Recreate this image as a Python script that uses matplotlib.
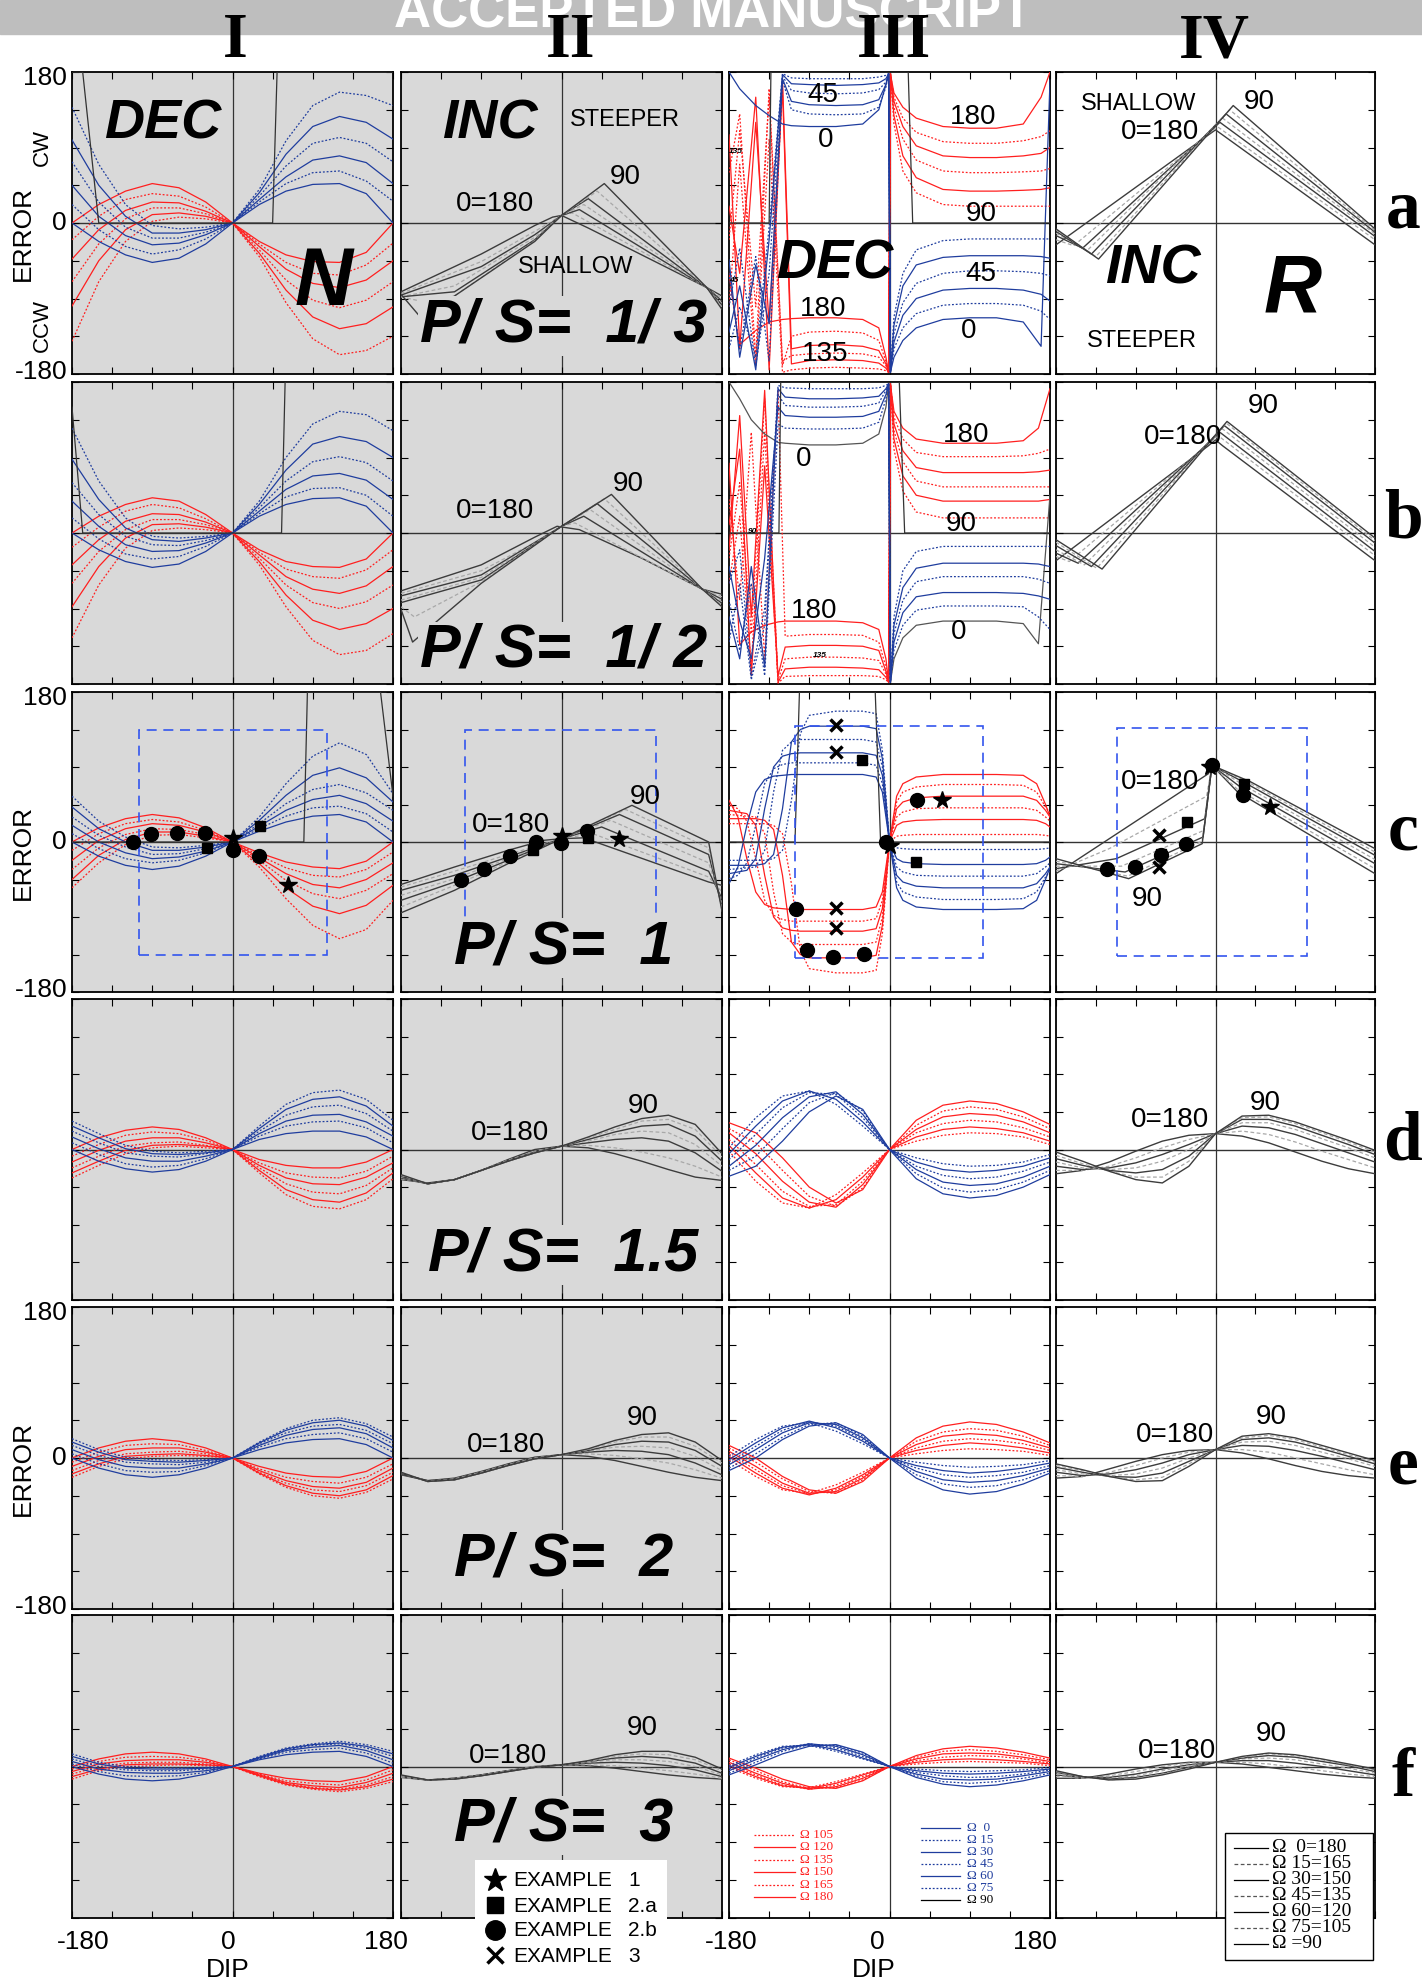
import matplotlib
matplotlib.use('Agg')
import matplotlib.pyplot as plt
from matplotlib.patches import Rectangle

W, H = 1422, 1984
SANS = ['Liberation Sans Narrow', 'Liberation Sans', 'DejaVu Sans']
SERIF = ['Liberation Serif', 'DejaVu Serif']
RED = '#ff1f1f'
BLUE = '#1f3d9e'
DARK = '#3c3c3c'
LIGHT = '#a8a8a8'
GRAY_BG = '#d9d9d9'
BOXBLUE = '#3355ee'
DOT = (0, (1.5, 1.5))
DASH = (0, (3, 2))

# ---------------- data (degrees) ----------------
DIP = [-180, -150, -120, -90, -60, -30, 0, 30, 60, 90, 120, 150, 180]
RED_OMEGA = ['105', '120', '135', '150', '165', '180']
BLUE_OMEGA = ['0', '15', '30', '45', '60', '75', '90']
IV_OMEGA = ['\u03a9  0=180', '\u03a9 15=165', '\u03a9 30=150', '\u03a9 45=135',
            '\u03a9 60=120', '\u03a9 75=105', '\u03a9 =90']
EXAMPLES = ['1', '2.a', '2.b', '3']

# column I (DEC), red = omega 105..180, blue = omega 0..75
IA_RED = [[-141, -70, -22, 2, 7, 5, 0, -40, -95, -138, -157, -152, -135],
          [-99, -45, -8, 10, 12, 8, 0, -36, -80, -112, -126, -120, -100],
          [-70, -25, 5, 18, 18, 11, 0, -32, -68, -92, -101, -92, -70],
          [-43, -8, 15, 25, 24, 14, 0, -28, -55, -72, -77, -68, -45],
          [-20, 8, 28, 35, 32, 19, 0, -25, -47, -60, -62, -50, -24],
          [0, 22, 38, 47, 42, 25, 0, -22, -38, -46, -47, -35, 0]]
IA_BLUE = [[0, -22, -38, -47, -42, -25, 0, 22, 38, 46, 47, 35, 0],
           [22, -8, -28, -37, -32, -19, 0, 25, 47, 60, 62, 50, 26],
           [45, 8, -15, -26, -24, -14, 0, 28, 55, 75, 80, 72, 47],
           [73, 25, -5, -18, -18, -11, 0, 32, 68, 95, 102, 95, 73],
           [99, 45, 8, -12, -12, -8, 0, 36, 82, 115, 127, 120, 100],
           [138, 70, 22, -3, -7, -5, 0, 40, 98, 140, 156, 152, 140]]
IA_BLACK_X = [-180, -168, -150, 45, 50, 180]
IA_BLACK_Y = [180, 180, 0, 0, 180, 180]

IB_RED = [[-125, -62, -18, 3, 6, 4, 0, -38, -88, -128, -145, -140, -120],
          [-88, -40, -6, 10, 11, 7, 0, -34, -74, -104, -115, -108, -90],
          [-60, -22, 4, 16, 16, 10, 0, -30, -62, -83, -90, -82, -62],
          [-38, -8, 14, 23, 22, 13, 0, -26, -52, -67, -72, -63, -40],
          [-17, 7, 26, 34, 30, 17, 0, -23, -43, -52, -54, -44, -20],
          [0, 20, 34, 42, 38, 22, 0, -20, -34, -40, -41, -31, 0]]
IB_BLUE = [[0, -20, -34, -41, -37, -22, 0, 20, 34, 41, 42, 32, 0],
           [18, -7, -25, -31, -28, -16, 0, 23, 43, 53, 54, 45, 20],
           [38, 8, -14, -22, -21, -12, 0, 26, 52, 68, 71, 63, 40],
           [60, 22, -4, -14, -15, -9, 0, 30, 62, 85, 91, 84, 62],
           [88, 40, 6, -8, -10, -6, 0, 34, 75, 106, 115, 109, 90],
           [125, 62, 18, -4, -6, -4, 0, 38, 90, 130, 145, 141, 122]]
IB_BLACK_X = [-180, -168, 55, 59, 180]
IB_BLACK_Y = [150, 0, 0, 180, 180]

IC_RED = [[-55, -25, -3, 8, 9, 5, 0, -30, -68, -100, -116, -105, -70],
          [-45, -16, 3, 12, 12, 7, 0, -26, -55, -77, -86, -76, -52],
          [-33, -7, 9, 16, 15, 9, 0, -22, -46, -62, -68, -58, -38],
          [-22, 2, 16, 22, 20, 12, 0, -19, -38, -51, -55, -45, -25],
          [-10, 10, 22, 27, 24, 14, 0, -16, -31, -40, -42, -33, -12],
          [0, 17, 28, 33, 29, 17, 0, -13, -24, -30, -32, -23, 0]]
IC_BLUE = [[0, -17, -28, -33, -29, -17, 0, 13, 24, 31, 33, 24, 0],
           [10, -8, -20, -25, -22, -13, 0, 16, 31, 41, 43, 34, 12],
           [20, 0, -13, -20, -18, -11, 0, 19, 38, 51, 56, 46, 25],
           [30, 8, -6, -15, -14, -8, 0, 22, 46, 63, 69, 59, 38],
           [42, 16, 0, -10, -10, -6, 0, 26, 56, 80, 89, 77, 48],
           [55, 25, 6, -6, -7, -4, 0, 30, 70, 103, 119, 105, 58]]
IC_BLACK_X = [-180, 80, 84, 166, 180]
IC_BLACK_Y = [0, 0, 180, 180, 55]

ID_RED = [[-34, -19, -5, 2, 4, 2, 0, -28, -54, -68, -71, -60, -35],
          [-28, -14, -1, 5, 6, 4, 0, -25, -48, -60, -63, -52, -28],
          [-22, -8, 4, 8, 9, 5, 0, -22, -41, -51, -53, -43, -22],
          [-15, -1, 10, 14, 14, 8, 0, -19, -34, -41, -42, -33, -16],
          [-8, 6, 17, 21, 19, 11, 0, -16, -28, -33, -34, -26, -8],
          [0, 14, 23, 27, 24, 14, 0, -12, -19, -22, -22, -15, 0]]
ID_BLUE = [[0, -14, -23, -27, -24, -14, 0, 12, 19, 22, 22, 15, 0],
           [8, -6, -17, -21, -19, -11, 0, 16, 28, 33, 34, 26, 8],
           [15, 1, -10, -14, -14, -8, 0, 19, 34, 41, 42, 33, 16],
           [22, 8, -4, -8, -9, -5, 0, 22, 41, 51, 53, 43, 22],
           [28, 14, 1, -5, -6, -4, 0, 25, 48, 60, 63, 52, 28],
           [34, 19, 5, -2, -4, -2, 0, 28, 54, 68, 71, 60, 35]]

IE_RED = [[-23, -10, -1, 2, 3, 2, 0, -19, -35, -45, -48, -41, -25],
          [-19, -7, 2, 4, 5, 3, 0, -18, -33, -42, -45, -38, -21],
          [-15, -3, 5, 7, 8, 5, 0, -17, -30, -38, -40, -33, -17],
          [-10, 2, 10, 12, 12, 7, 0, -15, -27, -34, -36, -29, -12],
          [-5, 7, 15, 17, 16, 9, 0, -13, -23, -28, -30, -23, -7],
          [0, 12, 20, 23, 20, 12, 0, -10, -18, -22, -23, -16, 0]]
IE_BLUE = [[0, -12, -20, -23, -20, -12, 0, 10, 18, 22, 23, 16, 0],
           [5, -7, -15, -17, -16, -9, 0, 13, 23, 28, 30, 23, 7],
           [10, -2, -10, -12, -12, -7, 0, 15, 27, 34, 36, 29, 12],
           [15, 3, -5, -7, -8, -5, 0, 17, 30, 38, 40, 33, 17],
           [19, 7, -2, -4, -5, -3, 0, 18, 33, 42, 45, 38, 21],
           [23, 10, 1, -2, -3, -2, 0, 19, 35, 45, 48, 41, 25]]

IF_RED = [[-15, -5, 0, 1, 2, 1, 0, -12, -22, -27, -30, -26, -18],
          [-12, -3, 2, 3, 3, 2, 0, -11, -21, -26, -28, -24, -15],
          [-9, 0, 4, 5, 5, 3, 0, -11, -20, -25, -27, -22, -12],
          [-6, 3, 7, 8, 8, 5, 0, -10, -19, -23, -25, -19, -8],
          [-3, 6, 11, 12, 11, 7, 0, -9, -17, -20, -22, -16, -4],
          [0, 9, 15, 17, 15, 9, 0, -8, -14, -17, -18, -12, 0]]
IF_BLUE = [[0, -9, -15, -17, -15, -9, 0, 8, 14, 17, 18, 12, 0],
           [3, -6, -11, -12, -11, -7, 0, 9, 17, 20, 22, 16, 4],
           [6, -3, -7, -8, -8, -5, 0, 10, 19, 23, 25, 19, 8],
           [9, 0, -4, -5, -5, -3, 0, 11, 20, 25, 27, 22, 12],
           [12, 3, -2, -3, -3, -2, 0, 11, 21, 26, 28, 24, 15],
           [15, 5, 0, -1, -2, -1, 0, 12, 22, 27, 30, 26, 18]]

# column II (INC, N), omega 0=180 ... 90 ; rows a-c as vertex lists
IIA_X = [[-180, -90, -30, -10, 0, 30, 163, 180],
         [-180, -90, -30, 0, 12, 163, 180],
         [-180, -90, -30, 0, 20, 163, 180],
         [-180, -120, -30, 0, 25, 163, 180],
         [-180, -120, -30, 0, 30, 163, 180],
         [-180, -150, -120, -30, 0, 40, 163, 180],
         [-180, -160, -120, -30, 0, 48, 163, 180]]
IIA_Y = [[-82, -37, -3, 7, 9, -6, -77, -87],
         [-84, -46, -10, 9, 12, -77, -90],
         [-86, -52, -14, 9, 16, -77, -93],
         [-88, -75, -17, 9, 22, -77, -96],
         [-88, -82, -20, 9, 29, -77, -98],
         [-88, -95, -87, -21, 9, 38, -77, -100],
         [-85, -110, -87, -22, 9, 47, -77, -103]]
IIB_X = [[-180, -90, -30, -5, 20, 90, 158, 180],
         [-180, -90, -20, 0, 15, 158, 180],
         [-180, -90, 0, 25, 158, 180],
         [-180, -90, 0, 32, 158, 180],
         [-180, -90, 0, 40, 158, 180],
         [-180, -165, -90, 0, 48, 158, 180],
         [-180, -167, -90, 0, 56, 158, 180]]
IIB_Y = [[-69, -38, -5, 8, 4, -30, -67, -73],
         [-72, -45, -6, 8, 12, -67, -76],
         [-75, -50, 8, 20, -67, -79],
         [-80, -53, 8, 28, -67, -82],
         [-83, -56, 8, 35, -67, -84],
         [-88, -100, -58, 8, 41, -67, -86],
         [-91, -130, -60, 8, 46, -67, -88]]
IIC_X = [[-180, -120, -60, -20, 0, 25, 165, 180],
         [-180, -120, -60, 0, 35, 165, 180],
         [-180, -120, -60, 0, 45, 165, 180],
         [-180, -120, -60, 0, 55, 165, 180],
         [-180, -120, -60, 0, 65, 165, 180],
         [-180, -120, -60, 0, 72, 165, 180],
         [-180, -120, -60, 0, 79, 165, 180]]
IIC_Y = [[-51, -30, -10, 2, 4, 5, -48, -52],
         [-54, -35, -15, 4, 10, -42, -60],
         [-58, -40, -18, 4, 18, -35, -68],
         [-64, -44, -20, 4, 26, -25, -74],
         [-70, -48, -22, 4, 33, -15, -78],
         [-78, -52, -24, 4, 39, -7, -80],
         [-85, -58, -26, 4, 44, 0, -83]]
IID = [[-36, -40, -36, -25, -12, 0, 4, 2, -5, -14, -24, -33, -37],
       [-35, -41, -36, -25, -13, -2, 4, 5, 2, -3, -10, -20, -33],
       [-34, -41, -36, -25, -13, -3, 4, 8, 12, 14, 10, -4, -26],
       [-33, -41, -36, -25, -13, -3, 4, 10, 18, 22, 20, 6, -20],
       [-32, -41, -36, -25, -14, -4, 4, 12, 21, 28, 30, 16, -14],
       [-31, -41, -36, -25, -14, -4, 4, 14, 24, 34, 36, 24, -9],
       [-30, -41, -36, -25, -14, -4, 4, 15, 27, 37, 41, 30, -5]]
IIE = [[-20, -27, -24, -16, -7, 1, 4, 2, -3, -10, -17, -23, -27],
       [-19, -27, -25, -17, -8, 0, 4, 5, 3, -1, -6, -14, -24],
       [-19, -27, -25, -17, -8, 0, 4, 7, 9, 8, 4, -6, -20],
       [-18, -28, -25, -17, -8, 0, 4, 8, 13, 14, 12, 2, -15],
       [-18, -28, -26, -18, -9, -1, 4, 9, 16, 20, 19, 9, -10],
       [-17, -28, -26, -18, -9, -1, 4, 10, 19, 25, 25, 14, -6],
       [-17, -28, -26, -18, -9, -1, 4, 11, 21, 28, 30, 19, -3]]
IIF = [[-13, -16, -14, -10, -5, 0, 2, 1, -2, -6, -10, -13, -15],
       [-13, -16, -14, -10, -5, 0, 2, 2, 1, -2, -5, -9, -14],
       [-12, -16, -14, -10, -5, -1, 2, 4, 5, 4, 1, -4, -12],
       [-12, -16, -14, -10, -5, -1, 2, 5, 8, 8, 6, 0, -10],
       [-11, -16, -15, -11, -6, -1, 2, 6, 10, 12, 10, 4, -8],
       [-11, -16, -15, -11, -6, -1, 2, 6, 12, 15, 14, 8, -5],
       [-10, -16, -15, -11, -6, -1, 2, 7, 14, 18, 18, 11, -3]]

# column III (DEC, R)
IIIA_X = [-180, -168, -150, -135, -120, -110, -90, -60, -30, -12, -4, -1,
          1, 5, 15, 30, 60, 90, 120, 150, 170, 180]
IIIA_RED = [[-100, 70, -170, 100, -178, -175, -173, -172, -173, -174, -176, -178,
             178, 118, 62, 36, 22, 20, 20, 20, 20, 20],
            [-60, -150, 120, -120, 160, -168, -164, -163, -164, -167, -173, -178,
             178, 128, 80, 54, 40, 38, 38, 39, 40, 42],
            [-20, 110, -100, 150, -165, -158, -156, -155, -156, -160, -170, -178,
             178, 138, 100, 75, 62, 60, 60, 61, 62, 65],
            [20, -60, 150, -175, 170, -150, -146, -145, -147, -152, -168, -178,
             178, 145, 115, 92, 80, 78, 78, 80, 83, 90],
            [60, 130, -160, 160, -170, -135, -130, -129, -131, -140, -165, -178,
             178, 150, 125, 108, 97, 95, 95, 98, 103, 110],
            [105, -145, -128, -118, -115, -114, -113, -113, -115, -125, -160, -178,
             178, 155, 138, 125, 115, 113, 113, 118, 150, 180]]
IIIA_BLUE = [[180, 160, 140, 128, 118, 116, 115, 115, 118, 135, 165, 178,
              -178, -160, -140, -125, -115, -113, -113, -118, -147, 170],
             [-60, -150, -40, -165, 170, 135, 130, 129, 130, 138, 162, 178,
              -178, -150, -125, -108, -98, -96, -96, -98, -105, -115],
             [-44, -160, -50, -120, 172, 145, 141, 140, 141, 147, 165, 178,
              -178, -142, -110, -90, -80, -78, -78, -80, -85, -93],
             [-100, -30, -170, -60, 175, 158, 155, 154, 155, 159, 168, 178,
              -178, -132, -95, -72, -60, -57, -57, -58, -60, -63],
             [-130, -75, -175, -20, 177, 166, 165, 164, 165, 167, 172, 178,
              -178, -122, -75, -50, -41, -39, -39, -39, -40, -42],
             [-150, -100, -160, -5, 178, 173, 172, 172, 172, 174, 176, 178,
              -178, -112, -60, -32, -21, -19, -19, -19, -19, -19]]
IIIA_BLACK_X = [-180, -135, -133, 21, 26, 180]
IIIA_BLACK_Y = [0, 0, 180, 180, 0, 0]

IIIB_X = [-180, -168, -155, -140, -125, -117, -90, -60, -30, -12, -4, -1,
          1, 5, 15, 30, 60, 90, 120, 150, 167, 180]
IIIB_RED = [[-60, 20, -160, 120, -179, -171, -170, -170, -170, -171, -175, -178,
             178, 100, 50, 25, 18, 18, 18, 18, 18, 18],
            [-20, 140, -100, 170, -178, -162, -160, -160, -161, -163, -172, -178,
             178, 112, 68, 45, 38, 38, 38, 38, 38, 40],
            [-30, 60, -120, 160, -175, -150, -148, -148, -149, -152, -168, -178,
             178, 122, 85, 62, 55, 55, 55, 55, 55, 55],
            [10, 100, -170, 80, -170, -136, -134, -134, -135, -140, -165, -178,
             178, 130, 98, 78, 72, 72, 72, 72, 73, 75],
            [40, -80, 120, -150, 170, -123, -121, -121, -122, -130, -160, -178,
             178, 138, 112, 96, 91, 91, 91, 92, 95, 100],
            [83, -133, -118, -110, -106, -105, -105, -105, -107, -115, -150, -178,
             178, 145, 125, 112, 107, 107, 107, 110, 125, 172]]
IIIB_BLUE = [[180, 160, 135, 118, 108, 107, 105, 105, 107, 118, 150, 178,
              -178, -150, -125, -110, -105, -105, -105, -108, -132, 45],
             [-80, -140, -60, -170, 130, 125, 124, 124, 125, 132, 160, 178,
              -178, -140, -110, -92, -87, -87, -87, -88, -100, -115],
             [-40, -105, -150, -30, 150, 140, 138, 138, 139, 145, 165, 178,
              -178, -130, -95, -76, -71, -71, -71, -72, -75, -79],
             [-60, -20, -170, -90, 165, 152, 150, 150, 151, 155, 170, 178,
              -178, -120, -80, -58, -52, -52, -52, -52, -55, -60],
             [-100, -150, -40, -160, 172, 162, 160, 160, 161, 163, 172, 178,
              -178, -110, -65, -42, -36, -36, -36, -36, -37, -40],
             [-130, -60, -175, -110, 176, 173, 172, 172, 172, 173, 176, 178,
              -178, -100, -45, -22, -16, -16, -16, -16, -16, -16]]
IIIB_BLACK_X = [-180, -124, -122, 11, 17, 180]
IIIB_BLACK_Y = [0, 0, 180, 180, 0, 0]

IIIC_X = [-180, -170, -160, -150, -140, -130, -120, -110, -100, -90, -60, -30, -15, -8,
          0, 8, 15, 30, 60, 90, 120, 150, 165, 175, 180]
IIIC_RED = [[22, 22, 22, 22, 22, 20, 10, -50, -130, -152, -157, -157, -154, -110,
             0, 7, 8, 9, 9, 9, 9, 9, 9, 8, 7],
            [28, 28, 28, 28, 26, 15, -40, -120, -135, -139, -139, -139, -136, -100,
             0, 20, 24, 26, 27, 27, 27, 27, 26, 22, 18],
            [33, 32, 31, 30, 10, -60, -110, -120, -123, -123, -123, -123, -120, -90,
             0, 30, 36, 40, 41, 41, 41, 41, 38, 30, 25],
            [38, 36, 34, 20, -40, -90, -103, -106, -107, -107, -107, -107, -104, -80,
             0, 40, 48, 53, 55, 55, 55, 55, 50, 38, 30],
            [44, 40, 25, -20, -70, -88, -93, -95, -95, -95, -95, -95, -92, -70,
             0, 48, 60, 66, 69, 69, 69, 68, 60, 42, 35],
            [50, 30, -20, -60, -75, -79, -80, -81, -81, -81, -81, -81, -78, -60,
             0, 55, 70, 78, 81, 81, 81, 80, 70, 45, 30]]
IIIC_BLUE = [[-50, -30, 20, 60, 75, 79, 80, 81, 81, 81, 81, 81, 78, 60,
              0, -55, -70, -78, -81, -81, -81, -80, -70, -45, -30],
             [-44, -40, -25, 20, 70, 88, 93, 95, 95, 95, 95, 95, 92, 70,
              0, -48, -60, -66, -69, -69, -69, -68, -60, -42, -35],
             [-38, -36, -34, -20, 40, 90, 103, 106, 107, 107, 107, 107, 104, 80,
              0, -40, -48, -53, -55, -55, -55, -55, -50, -38, -30],
             [-33, -32, -31, -30, -10, 60, 110, 120, 123, 123, 123, 123, 120, 90,
              0, -30, -36, -40, -41, -41, -41, -41, -38, -30, -25],
             [-28, -28, -28, -28, -26, -15, 40, 120, 135, 139, 139, 139, 136, 100,
              0, -20, -24, -26, -27, -27, -27, -27, -26, -22, -18],
             [-22, -22, -22, -22, -22, -20, -10, 50, 130, 152, 157, 157, 154, 110,
              0, -7, -8, -9, -9, -9, -9, -9, -9, -8, -7]]
IIIC_BLACK_X = [-180, -106, -101, -16, -10, 180]
IIIC_BLACK_Y = [0, 0, 180, 180, 0, 0]

IIID_RED = [[-2, -38, -64, -70, -54, -28, 0, 10, 17, 20, 19, 15, 6],
            [5, -28, -58, -70, -60, -33, 0, 15, 24, 27, 25, 20, 10],
            [12, -18, -50, -68, -66, -38, 0, 20, 31, 35, 33, 26, 15],
            [20, -5, -38, -63, -69, -42, 0, 24, 39, 43, 41, 33, 20],
            [25, 8, -25, -56, -68, -46, 0, 29, 46, 51, 48, 39, 25],
            [32, 20, -10, -45, -64, -48, 0, 35, 53, 58, 55, 45, 30]]
IIID_BLUE = [[-32, -20, 10, 45, 64, 48, 0, -35, -53, -58, -55, -45, -30],
             [-25, -8, 25, 56, 68, 46, 0, -29, -46, -51, -48, -39, -25],
             [-20, 5, 38, 63, 69, 42, 0, -24, -39, -43, -41, -33, -20],
             [-12, 18, 50, 68, 66, 38, 0, -20, -31, -35, -33, -26, -15],
             [-5, 28, 58, 70, 60, 33, 0, -15, -24, -27, -25, -20, -10],
             [2, 38, 64, 70, 54, 28, 0, -10, -17, -20, -19, -15, -6]]
IIIE_RED = [[-2, -22, -38, -42, -32, -17, 0, 5, 9, 11, 10, 8, 3],
            [2, -18, -36, -44, -36, -20, 0, 9, 15, 18, 16, 12, 6],
            [5, -14, -33, -43, -38, -22, 0, 12, 20, 23, 21, 17, 9],
            [8, -10, -30, -42, -40, -24, 0, 16, 26, 29, 27, 21, 12],
            [12, -5, -25, -40, -42, -26, 0, 20, 31, 35, 33, 26, 15],
            [15, 0, -22, -38, -42, -28, 0, 24, 38, 43, 40, 31, 18]]
IIIE_BLUE = [[-15, 0, 22, 38, 42, 28, 0, -24, -38, -43, -40, -31, -18],
             [-12, 5, 25, 40, 42, 26, 0, -20, -31, -35, -33, -26, -15],
             [-8, 10, 30, 42, 40, 24, 0, -16, -26, -29, -27, -21, -12],
             [-5, 14, 33, 43, 38, 22, 0, -12, -20, -23, -21, -17, -9],
             [-2, 18, 36, 44, 36, 20, 0, -9, -15, -18, -16, -12, -6],
             [2, 22, 38, 42, 32, 17, 0, -5, -9, -11, -10, -8, -3]]
IIIF_RED = [[-1, -14, -24, -25, -18, -9, 0, 3, 5, 6, 5, 4, 1],
            [1, -12, -23, -26, -20, -10, 0, 5, 8, 9, 8, 6, 3],
            [3, -10, -22, -27, -22, -12, 0, 7, 11, 13, 12, 9, 4],
            [5, -8, -20, -27, -24, -14, 0, 9, 15, 16, 15, 11, 6],
            [8, -5, -18, -26, -25, -16, 0, 11, 18, 20, 18, 14, 8],
            [10, -2, -15, -24, -26, -17, 0, 13, 21, 24, 22, 17, 10]]
IIIF_BLUE = [[-10, 2, 15, 24, 26, 17, 0, -13, -21, -24, -22, -17, -10],
             [-8, 5, 18, 26, 25, 16, 0, -11, -18, -20, -18, -14, -8],
             [-5, 8, 20, 27, 24, 14, 0, -9, -15, -16, -15, -11, -6],
             [-3, 10, 22, 27, 22, 12, 0, -7, -11, -13, -12, -9, -4],
             [-1, 12, 23, 26, 20, 10, 0, -5, -8, -9, -8, -6, -3],
             [1, 14, 24, 25, 18, 9, 0, -3, -5, -6, -5, -4, -1]]

# column IV (INC, R)
IVA_X = [[-180, -8, 0, 8, 180], [-180, -160, 2, 180], [-180, -150, 5, 180],
         [-180, -145, 8, 180], [-180, -140, 12, 180], [-180, -135, 16, 180],
         [-180, -132, 20, 180]]
IVA_Y = [[-26, 105, 111, 105, -26], [-20, -27, 115, -20], [-15, -30, 120, -16],
         [-12, -33, 125, -13], [-10, -37, 130, -11], [-8, -40, 135, -9],
         [-7, -43, 140, -7]]
IVB_X = [[-180, -8, 0, 8, 180], [-180, -165, 3, 180], [-180, -155, 5, 180],
         [-180, -148, 8, 180], [-180, -140, 10, 180], [-180, -134, 12, 180],
         [-180, -128, 13, 180]]
IVB_Y = [[-33, 104, 111, 104, -33], [-28, -34, 116, -27], [-24, -36, 120, -22],
         [-20, -38, 124, -17], [-15, -40, 128, -12], [-11, -42, 131, -9],
         [-8, -43, 133, -6]]
IVC_X = [[-180, -8, -4, 25, 180], [-180, -120, -10, -4, 25, 180],
         [-180, -112, -12, -4, 28, 180], [-180, -106, -13, -4, 32, 180],
         [-180, -102, -14, -4, 35, 180], [-180, -99, -15, -4, 38, 180],
         [-180, -98, -15, -4, 40, 180]]
IVC_Y = [[-38, 82, 92, 60, -38], [-35, -8, 55, 92, 63, -32],
         [-32, -20, 28, 92, 66, -26], [-29, -29, 14, 92, 68, -21],
         [-26, -36, 6, 92, 70, -16], [-23, -41, 1, 92, 71, -12],
         [-20, -44, -2, 92, 72, -8]]
IVD = [[-29, -25, -15, -2, 10, 17, 19, 16, 8, -3, -14, -23, -29],
       [-25, -25, -20, -10, 2, 12, 19, 22, 18, 9, -2, -12, -22],
       [-20, -24, -22, -16, -6, 6, 19, 28, 26, 18, 7, -4, -15],
       [-15, -22, -24, -22, -14, 0, 19, 32, 32, 24, 13, 2, -10],
       [-11, -19, -25, -28, -24, -8, 19, 36, 36, 28, 17, 6, -6],
       [-7, -17, -26, -33, -33, -14, 19, 38, 39, 31, 20, 9, -3],
       [-3, -14, -26, -36, -40, -20, 19, 40, 41, 33, 22, 11, -1]]
IVE = [[-24, -22, -13, -4, 4, 9, 10, 6, -1, -9, -16, -21, -24],
       [-21, -22, -17, -9, 0, 7, 10, 10, 7, 0, -7, -14, -20],
       [-17, -21, -19, -14, -6, 4, 10, 15, 14, 9, 2, -6, -14],
       [-14, -19, -21, -19, -12, 0, 10, 19, 20, 15, 7, -1, -10],
       [-11, -17, -22, -23, -18, -4, 10, 22, 24, 19, 11, 2, -7],
       [-9, -15, -22, -26, -23, -7, 10, 24, 27, 22, 13, 4, -5],
       [-7, -14, -22, -28, -27, -10, 10, 26, 29, 24, 15, 6, -3]]
IVF = [[-14, -14, -9, -3, 2, 5, 5, 3, -1, -5, -9, -12, -14],
       [-12, -14, -11, -6, 0, 4, 5, 5, 3, -1, -5, -9, -12],
       [-10, -13, -13, -9, -3, 2, 5, 7, 7, 4, 0, -5, -10],
       [-9, -13, -14, -11, -5, 1, 5, 9, 10, 8, 3, -2, -8],
       [-7, -12, -15, -13, -8, -1, 5, 10, 13, 11, 6, 1, -6],
       [-6, -12, -16, -14, -9, -2, 5, 11, 15, 13, 8, 2, -4],
       [-5, -12, -16, -15, -10, -3, 5, 12, 16, 14, 9, 3, -3]]

# row c example points and boxes
IC_CIRCLE = ([-112, -91, -62, -31, 0, 30], [0, 10, 11, 11, -10, -17])
IC_SQUARE = ([-29, 31], [-7, 19])
IC_STAR = ([0, 62], [5, -51])
IIC_CIRCLE = ([-113, -87, -58, -29, -1, 29], [-46, -32, -17, 0, -1, 13])
IIC_SQUARE = ([-32, 30], [-10, 5])
IIC_STAR = ([0, 65], [7, 4])
IIIC_CIRCLE = ([-105, -93, -63, -29, -4, 31], [-80, -129, -138, -134, 0, 50])
IIIC_SQUARE = ([-31, 30], [98, -24])
IIIC_STAR = ([0, 59], [-5, 50])
IIIC_CROSS = ([-60, -60, -60, -60], [141, 108, -79, -103])
IVC_CIRCLE = ([-4, 31, -33, -62, -91, -123], [92, 56, -2, -15, -30, -32])
IVC_SQUARE = ([-32, 32, -62], [24, 70, -14])
IVC_STAR = ([-6, 61], [90, 42])
IVC_CROSS = ([-64, -64], [8, -30])
C_BOXES = [[-105, 106, -135, 135], [-108, 106, -135, 135],
           [-106, 105, -139, 139], [-111, 103, -137, 137]]

# ---------------- layout ----------------
COL_PX = [(72, 393), (401, 722), (729, 1050), (1056, 1375)]
ROW_PX = [(72, 374), (382, 684), (692, 992), (999, 1300), (1307, 1609), (1615, 1918)]
RED_LS = [DOT, '-', DOT, '-', DOT, '-']
BLUE_LS = ['-', DOT, '-', DOT, '-', DOT]

fig = plt.figure(figsize=(W / 100, H / 100), dpi=100)


def panel(ci, ri):
    x0, x1 = COL_PX[ci]
    y0, y1 = ROW_PX[ri]
    ax = fig.add_axes([x0 / W, 1 - y1 / H, (x1 - x0) / W, (y1 - y0) / H])
    ax.set_xlim(-180, 180)
    ax.set_ylim(-180, 180)
    ax.set_xticks(range(-180, 181, 45))
    ax.set_yticks(range(-180, 181, 45))
    ax.tick_params(direction='in', length=5, width=0.8, top=True, right=True,
                   labelbottom=False, labelleft=False)
    ax.set_facecolor(GRAY_BG if ci < 2 else 'white')
    for s in ax.spines.values():
        s.set_linewidth(1.3)
    ax.axhline(0, color='#333333', lw=1.0, zorder=1)
    ax.axvline(0, color='#333333', lw=0.9, zorder=1)
    return ax


def red_blue(ax, x, reds, blues, blue0=BLUE):
    for y, ls in zip(reds, RED_LS):
        ax.plot(x, y, color=RED, ls=ls, lw=0.9, zorder=3)
    for i, (y, ls) in enumerate(zip(blues, BLUE_LS)):
        ax.plot(x, y, color=blue0 if i == 0 else BLUE, ls=ls, lw=0.9, zorder=3)


def grays(ax, xs, ys):
    for i, (x, y) in enumerate(zip(xs, ys)):
        if i % 2 == 0:
            ax.plot(x, y, color=DARK, lw=1.0, zorder=3)
        else:
            ax.plot(x, y, color=LIGHT, ls=DASH, lw=0.9, zorder=3)


def lab(ax, x, y, s, size=20, bold=False, italic=False, bg=None):
    kw = dict(ha='center', va='center', fontsize=size, family=SANS, zorder=6,
              fontweight='bold' if bold else 'normal',
              fontstyle='italic' if italic else 'normal')
    if bg is not None:
        kw['bbox'] = dict(facecolor=bg, edgecolor='none', pad=1)
    ax.text(x, y, s, **kw)


def marks(ax, circ, sq, star, cross=None):
    ax.plot(*circ, 'o', color='k', ms=10, zorder=5, ls='none')
    ax.plot(*sq, 's', color='k', ms=7, zorder=5, ls='none')
    ax.plot(*star, '*', color='k', ms=13, zorder=5, ls='none')
    if cross is not None:
        ax.plot(*cross, 'x', color='k', ms=8, mew=2.5, zorder=5, ls='none')


A = {(ci, ri): panel(ci, ri) for ri in range(6) for ci in range(4)}

# column I
for ri, (reds, blues) in enumerate([(IA_RED, IA_BLUE), (IB_RED, IB_BLUE), (IC_RED, IC_BLUE),
                                    (ID_RED, ID_BLUE), (IE_RED, IE_BLUE), (IF_RED, IF_BLUE)]):
    red_blue(A[(0, ri)], DIP, reds, blues)
for ri, (bx, by) in enumerate([(IA_BLACK_X, IA_BLACK_Y), (IB_BLACK_X, IB_BLACK_Y),
                               (IC_BLACK_X, IC_BLACK_Y)]):
    A[(0, ri)].plot(bx, by, color='#333333', lw=0.9, zorder=3)

# column II
grays(A[(1, 0)], IIA_X, IIA_Y)
grays(A[(1, 1)], IIB_X, IIB_Y)
grays(A[(1, 2)], IIC_X, IIC_Y)
for ri, fam in [(3, IID), (4, IIE), (5, IIF)]:
    grays(A[(1, ri)], [DIP] * len(fam), fam)

# column III
red_blue(A[(2, 0)], IIIA_X, IIIA_RED, IIIA_BLUE)
red_blue(A[(2, 1)], IIIB_X, IIIB_RED, IIIB_BLUE, blue0='#555555')
red_blue(A[(2, 2)], IIIC_X, IIIC_RED, IIIC_BLUE)
red_blue(A[(2, 3)], DIP, IIID_RED, IIID_BLUE)
red_blue(A[(2, 4)], DIP, IIIE_RED, IIIE_BLUE)
red_blue(A[(2, 5)], DIP, IIIF_RED, IIIF_BLUE)
for ri, (bx, by) in enumerate([(IIIA_BLACK_X, IIIA_BLACK_Y), (IIIB_BLACK_X, IIIB_BLACK_Y),
                               (IIIC_BLACK_X, IIIC_BLACK_Y)]):
    A[(2, ri)].plot(bx, by, color='#333333', lw=0.9, zorder=3)

# column IV
grays(A[(3, 0)], IVA_X, IVA_Y)
grays(A[(3, 1)], IVB_X, IVB_Y)
grays(A[(3, 2)], IVC_X, IVC_Y)
for ri, fam in [(3, IVD), (4, IVE), (5, IVF)]:
    grays(A[(3, ri)], [DIP] * len(fam), fam)

# row c: boxes and example points
for ci, b in enumerate(C_BOXES):
    A[(ci, 2)].add_patch(Rectangle((b[0], b[2]), b[1] - b[0], b[3] - b[2], fill=False,
                                   ec=BOXBLUE, lw=1.2, ls=(0, (6, 4)), zorder=4))
marks(A[(0, 2)], IC_CIRCLE, IC_SQUARE, IC_STAR)
marks(A[(1, 2)], IIC_CIRCLE, IIC_SQUARE, IIC_STAR)
marks(A[(2, 2)], IIIC_CIRCLE, IIIC_SQUARE, IIIC_STAR, IIIC_CROSS)
marks(A[(3, 2)], IVC_CIRCLE, IVC_SQUARE, IVC_STAR, IVC_CROSS)

# panel annotations
ax = A[(0, 0)]
lab(ax, -78, 117, 'DEC', 40, True, True)
lab(ax, 102, -73, 'N', 58, True, True)
ax = A[(1, 0)]
lab(ax, -80, 117, 'INC', 40, True, True)
lab(ax, 71, 123, 'STEEPER', 17)
lab(ax, -75, 23, '0=180')
lab(ax, 72, 55, '90')
lab(ax, 16, -52, 'SHALLOW', 17)
ax = A[(2, 0)]
lab(ax, -61, -50, 'DEC', 40, True, True)
for x, y, s in [(-75, 153, '45'), (-72, 99, '0'), (94, 126, '180'), (103, 11, '90'),
                (102, -61, '45'), (89, -129, '0'), (-74, -103, '180'), (-72, -156, '135')]:
    lab(ax, x, y, s)
lab(ax, -172, 85, '135', 6, True, True)
lab(ax, -175, -69, '45', 6, True, True)
ax = A[(3, 0)]
lab(ax, -87, 142, 'SHALLOW', 17)
lab(ax, -63, 108, '0=180')
lab(ax, 49, 144, '90')
lab(ax, -71, -55, 'INC', 40, True, True)
lab(ax, 87, -80, 'R', 58, True, True)
lab(ax, -83, -141, 'STEEPER', 17)
ax = A[(2, 1)]
for x, y, s in [(86, 117, '180'), (81, 11, '90'), (-96, 88, '0'), (-84, -93, '180'),
                (77, -118, '0')]:
    lab(ax, x, y, s)
lab(ax, -78, -146, '135', 6, True, True)
lab(ax, -154, 2, '90', 6, True, True)

PS = ['P/ S=  1/ 3', 'P/ S=  1/ 2', 'P/ S=  1', 'P/ S=  1.5', 'P/ S=  2', 'P/ S=  3']
PS_Y = [-123, -141, -127, -126, -121, -70]
II_LAB = [None, ((-75, 26), (75, 59)), ((-57, 20), (94, 54)), ((-58, 20), (92, 52)),
          ((-62, 16), (91, 48)), ((-60, 13), (91, 46))]
IV_LAB = [None, ((-37, 115), (54, 151)), ((-63, 72), (-77, -68)), ((-51, 35), (56, 56)),
          ((-46, 27), (63, 49)), ((-44, 18), (63, 39))]
for ri in range(6):
    lab(A[(1, ri)], 2, PS_Y[ri], PS[ri], 44, True, True, bg=GRAY_BG)
    if II_LAB[ri]:
        (a, b), (c, d) = II_LAB[ri]
        lab(A[(1, ri)], a, b, '0=180')
        lab(A[(1, ri)], c, d, '90')
    if IV_LAB[ri]:
        (a, b), (c, d) = IV_LAB[ri]
        lab(A[(3, ri)], a, b, '0=180')
        lab(A[(3, ri)], c, d, '90')

# ---------------- figure-level overlay (pixel coordinates) ----------------
ov = fig.add_axes([0, 0, 1, 1])
ov.set_xlim(0, W)
ov.set_ylim(H, 0)
ov.axis('off')

ov.add_patch(Rectangle((0, 0), W, 34, color='#bebebe', zorder=1))
ov.text(713, 27, 'ACCEPTED MANUSCRIPT', ha='center', va='baseline', color='white',
        fontsize=37, fontweight='bold', family=['Liberation Sans'], zorder=2)

for x, s in zip([235, 571, 894, 1214], ['I', 'II', 'III', 'IV']):
    ov.text(x, 57, s, ha='center', va='baseline', fontsize=46, fontweight='bold',
            family=SERIF, zorder=3)
for y, s in zip([227, 538, 849, 1160, 1483, 1796], 'abcdef'):
    ov.text(1403, y, s, ha='center', va='baseline', fontsize=50, fontweight='bold', family=SERIF)

for ri in (0, 2, 4):
    y0, y1 = ROW_PX[ri]
    for y, s in [(y0 + 6, '180'), ((y0 + y1) / 2, '0'), (y1 - 2, '-180')]:
        ov.text(67, y, s, ha='right', va='center', fontsize=19, family=SANS)
    ov.text(23, (y0 + y1) / 2 + 10, 'ERROR', rotation=90, ha='center', va='center',
            fontsize=19, family=SANS)
ov.text(42, 148, 'CW', rotation=90, ha='center', va='center', fontsize=16, family=SANS)
ov.text(42, 326, 'CCW', rotation=90, ha='center', va='center', fontsize=16, family=SANS)
for x, s in [(83, '-180'), (228, '0'), (386, '180'), (731, '-180'), (877, '0'), (1035, '180')]:
    ov.text(x, 1942, s, ha='center', va='center', fontsize=19, family=SANS)
for x in (228, 874):
    ov.text(x, 1970, 'DIP', ha='center', va='center', fontsize=19, family=SANS)

# example-point legend (column II, row f)
ov.add_patch(Rectangle((475, 1860), 192, 112, fc='white', ec='none', zorder=3))
for i, (mk, ms, s) in enumerate(zip(['*', 's', 'o', 'x'], [17, 12, 14, 11], EXAMPLES)):
    y = 1880 + 25 * i
    ov.plot([495], [y], marker=mk, ms=ms, color='k', mew=2.5 if mk == 'x' else 1, zorder=4)
    ov.text(513, y + 1, 'EXAMPLE', ha='left', va='center', fontsize=15, family=SANS, zorder=4)
    ov.text(628, y + 1, s, ha='left', va='center', fontsize=15, family=SANS, zorder=4)

# omega legends in panel III-f
for i, (s, ls) in enumerate(zip(RED_OMEGA, RED_LS)):
    y = 1835 + 12.4 * i
    ov.plot([754, 795], [y, y], color=RED, ls=ls, lw=0.9)
    ov.text(800, y, '\u03a9 ' + s, ha='left', va='center', fontsize=9.5, family=SERIF, color=RED)
for i, s in enumerate(BLUE_OMEGA):
    y = 1828 + 12 * i
    c = BLUE if i < 6 else 'black'
    ls = BLUE_LS[i] if i < 6 else '-'
    ov.plot([921, 960], [y, y], color=c, ls=ls, lw=0.9)
    ov.text(967, y, '\u03a9 ' + s.rjust(2), ha='left', va='center', fontsize=9.5,
            family=SERIF, color=c)

# omega legend in panel IV-f
ov.add_patch(Rectangle((1225, 1833), 148, 127, fc='white', ec='black', lw=1, zorder=3))
for i, s in enumerate(IV_OMEGA):
    y = 1848 + 16 * i
    ov.plot([1234, 1268], [y, y], color='black' if i % 2 == 0 else '#555555',
            ls='-' if i % 2 == 0 else DASH, lw=0.9, zorder=4)
    ov.text(1272, y, s, ha='left', va='center', fontsize=14, family=SERIF, zorder=4)

fig.savefig('out.png', dpi=100)
